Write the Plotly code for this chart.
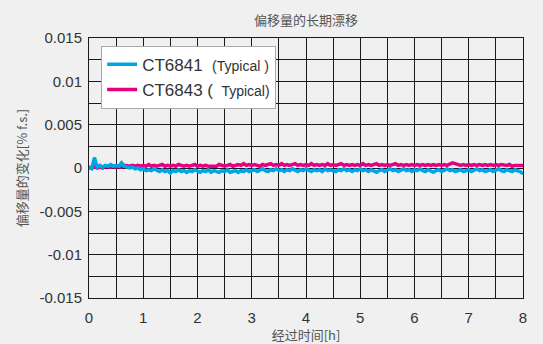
import plotly.graph_objects as go

# Time axis [h], sampled every 0.05 h
hours = [round(i * 0.05, 2) for i in range(161)]

# Offset change, in units of 1e-4 % f.s.
ct6841_e4 = [
    0, -1, 12, 1, 3, 1, 3, 2, 4, 2, 3, 2, 6, 2, 1, 0, 1, -1, 0, -2,
    -1, -3, -2, -3, -1, -3, -4, -2, -4, -3, -6, -3, -4, -2, -4, -3, -5, -3, -4, -2,
    -4, -5, -3, -4, -2, -5, -3, -4, -5, -3, -4, -2, -5, -4, -3, -5, -3, -4, -2, -4,
    -3, -2, -4, -3, -1, -3, -4, -2, -3, -1, -3, -2, -4, -2, -3, -1, -3, -4, -2, -3,
    -1, -3, -4, -2, -3, -2, -4, -1, -3, -2, -3, -4, -2, -3, -1, -3, -2, -4, -2, -3,
    -1, -3, -2, -4, -2, -3, -5, -3, -2, -4, -3, -1, -3, -2, -4, -3, -1, -3, -2, -4,
    -2, -3, -1, -3, -4, -2, -3, -5, -3, -2, -4, -3, -1, -3, -2, -4, -3, -2, -4, -3,
    -2, -4, -3, -1, -3, -2, -4, -3, -2, -4, -3, -1, -3, -4, -2, -3, -4, -2, -3, -4,
    -7,
]
ct6843_e4 = [
    1, 0, 2, 0, 1, 0, 2, 1, 1, 2, 1, 2, 1, 3, 2, 2, 3, 2, 3, 2,
    3, 2, 4, 2, 3, 2, 3, 4, 2, 3, 2, 3, 2, 4, 3, 2, 3, 2, 3, 4,
    2, 3, 2, 3, 2, 2, 3, 2, 4, 3, 2, 3, 4, 2, 3, 4, 3, 5, 3, 4,
    3, 4, 3, 2, 4, 3, 4, 5, 3, 4, 3, 5, 3, 4, 3, 4, 5, 3, 4, 3,
    4, 3, 5, 3, 4, 3, 4, 3, 5, 3, 4, 3, 4, 5, 3, 4, 3, 4, 3, 4,
    3, 5, 3, 4, 3, 4, 5, 3, 4, 3, 4, 3, 4, 5, 3, 4, 3, 4, 3, 4,
    3, 4, 3, 4, 3, 4, 3, 4, 3, 4, 3, 4, 3, 5, 6, 5, 4, 3, 4, 3,
    4, 3, 4, 3, 4, 3, 4, 3, 4, 3, 4, 3, 4, 3, 3, 4, 2, 3, 3, 3,
    3,
]
assert len(ct6841_e4) == len(hours) and len(ct6843_e4) == len(hours)
ct6841 = [v * 1e-4 for v in ct6841_e4]
ct6843 = [v * 1e-4 for v in ct6843_e4]

y_tickvals = [0.015, 0.01, 0.005, 0, -0.005, -0.01, -0.015]
y_ticktext = ["0.015", "0.01", "0.005", "0", "-0.005", "-0.01", "-0.015"]
x_tickvals = [0, 1, 2, 3, 4, 5, 6, 7, 8]

FONT = "Liberation Sans, Arial, Noto Sans CJK SC, sans-serif"
CJK = "Noto Sans CJK SC, sans-serif"
BG = "#eff0ef"
GRID = "#1a1a1a"

fig = go.Figure()
fig.add_trace(go.Scatter(
    x=hours, y=ct6843, mode="lines", legendrank=2,
    name="CT6843 ( <span style='font-size:14px'> Typical)</span>",
    line=dict(color="#e5007f", width=3.5),
))
fig.add_trace(go.Scatter(
    x=hours, y=ct6841, mode="lines", legendrank=1,
    name="CT6841  <span style='font-size:14px'>(Typical )</span>",
    line=dict(color="#00a5e6", width=3.5),
))

fig.update_layout(
    width=543, height=344,
    margin=dict(l=89, r=20, t=38, b=46),
    paper_bgcolor=BG, plot_bgcolor=BG,
    font=dict(family=FONT, size=15, color="#333333"),
    title=dict(text="偏移量的长期漂移", x=(89 + 523) / 2 / 543, xanchor="center",
               y=1 - 20 / 344, yanchor="middle",
               font=dict(family=CJK, size=13, color="#555555")),
    showlegend=True,
    legend=dict(
        x=0.028, y=0.970, xanchor="left", yanchor="top",
        bgcolor="#ffffff", bordercolor="#aaaaaa", borderwidth=1,
        font=dict(family=FONT, size=17, color="#333333"),
        tracegroupgap=0, itemwidth=30,
    ),
    xaxis=dict(
        range=[0, 8], tickvals=x_tickvals, ticks="outside", ticklen=6,
        tickcolor=BG, showgrid=True, gridcolor=GRID, gridwidth=1,
        minor=dict(dtick=0.5, showgrid=True, gridcolor=GRID, gridwidth=1),
        showline=True, linecolor=GRID, linewidth=1, mirror=True, zeroline=False,
        automargin=False,
        title=dict(text="经过时间[h]", standoff=4,
                   font=dict(family=CJK, size=13, color="#555555")),
    ),
    yaxis=dict(
        range=[-0.015, 0.015], tickvals=y_tickvals, ticktext=y_ticktext,
        ticks="outside", ticklen=3, tickcolor=BG,
        showgrid=True, gridcolor=GRID, gridwidth=1,
        minor=dict(dtick=0.0025, showgrid=True, gridcolor=GRID, gridwidth=1),
        showline=True, linecolor=GRID, linewidth=1, mirror=True, zeroline=False,
        automargin=False,
        title=dict(text="偏移量的变化[% f.s.]", standoff=8,
                   font=dict(family=CJK, size=13, color="#555555")),
    ),
)

fig.write_html(
    "out.html",
    config={"displayModeBar": False},
    post_script="document.body.style.margin='0';document.body.style.background='#eff0ef';",
)
